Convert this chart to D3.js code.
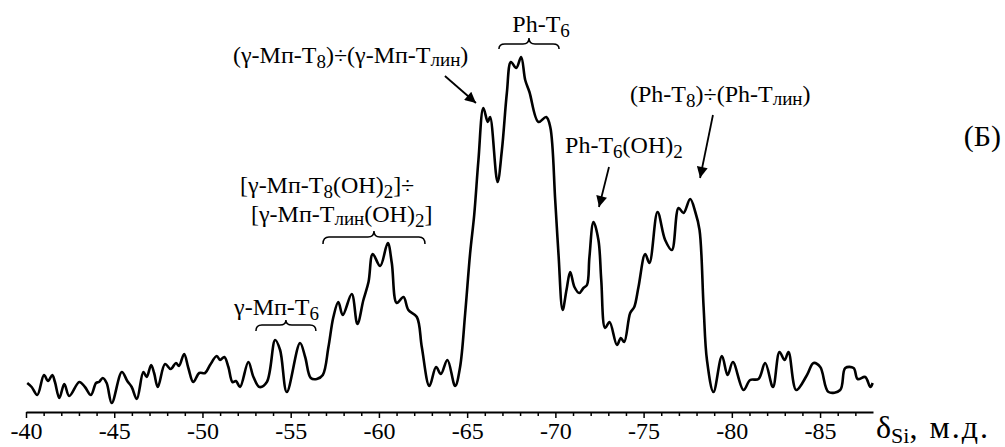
<!DOCTYPE html>
<html>
<head>
<meta charset="utf-8">
<script src="https://cdn.jsdelivr.net/npm/d3@7"></script>
<style>
  body { margin: 0; background: #fff; }
  svg text { font-family: "Times New Roman", "Liberation Serif", Tinos, "DejaVu Serif", "Noto Serif", serif; fill: #000; }
</style>
</head>
<body>
<div id="chart"></div>
<script>
// chemical shift, ppm
const shift = [
  -40.07, -40.32, -40.64, -41.02, -41.25, -41.49, -41.64, -41.89, -42.17, -42.45,
  -43.02, -43.34, -43.68, -43.97, -44.14, -44.35, -44.57, -44.86, -45.43, -45.74,
  -45.99, -46.28, -46.65, -46.84, -47.09, -47.26, -47.47, -47.88, -48.20, -48.50,
  -48.67, -48.96, -49.20, -49.48, -49.82, -50.15, -50.43, -50.81, -51.00, -51.24,
  -51.47, -51.70, -51.90, -52.13, -52.60, -52.89, -53.23, -53.65, -54.12, -54.40,
  -54.78, -55.53, -55.82, -56.14, -56.48, -56.82, -57.14, -57.42, -57.70, -57.95,
  -58.46, -58.78, -59.12, -59.41, -59.65, -60.07, -60.50, -60.73, -61.01, -61.39,
  -61.67, -62.15, -62.43, -62.86, -63.24, -63.51, -63.88, -64.32, -64.60, -64.89,
  -65.17, -65.40, -65.64, -65.92, -66.17, -66.30, -66.72, -66.97, -67.25, -67.48,
  -67.78, -68.06, -68.29, -68.53, -69.04, -69.48, -69.71, -69.99, -70.18, -70.41,
  -70.63, -70.84, -71.08, -71.35, -71.59, -71.79, -71.93, -72.16, -72.44, -72.60,
  -72.82, -73.07, -73.49, -73.71, -73.90, -74.24, -74.47, -74.71, -75.09, -75.33,
  -75.79, -76.22, -76.60, -76.98, -77.26, -77.64, -77.93, -78.17, -78.40, -78.59,
  -78.96, -79.44, -79.76, -80.06, -80.66, -81.04, -81.51, -81.89, -82.33, -82.70,
  -82.99, -83.21, -83.65, -84.26, -84.63, -85.01, -85.48, -86.14, -86.43, -86.90,
  -87.13, -87.56, -87.85, -87.98
];
// intensity, arb. units
const intensity = [
  29, 25, 17, 37, 31, 37, 30, 14, 28, 16,
  30, 25, 17, 29, 30, 34, 29, 9, 40, 31,
  25, 13, 40, 35, 47, 39, 25, 48, 43, 49,
  46, 58, 44, 30, 39, 39, 47, 56, 52, 55,
  45, 30, 31, 25, 50, 35, 25, 30, 72, 62,
  20, 69, 55, 34, 33, 37, 65, 95, 110, 97,
  118, 88, 112, 130, 158, 146, 169, 149, 109, 115,
  102, 95, 65, 26, 45, 38, 52, 26, 45, 99,
  159, 197, 252, 304, 290, 295, 230, 262, 319, 350,
  344, 355, 332, 320, 290, 295, 285, 212, 157, 102,
  122, 140, 125, 119, 124, 127, 155, 190, 172, 132,
  84, 90, 67, 74, 70, 99, 105, 125, 158, 149,
  200, 172, 162, 204, 199, 213, 200, 182, 105, 52,
  20, 56, 37, 50, 22, 32, 33, 49, 25, 60,
  52, 60, 22, 37, 49, 45, 20, 22, 44, 44,
  33, 35, 25, 29
];

const majorTicks = [-40, -45, -50, -55, -60, -65, -70, -75, -80, -85];
const minorTicks = d3.range(-41, -88, -1).filter(v => v % 5 !== 0);

// annotations, placed in data units (ppm, intensity)
const labels = [
  { parts: [["(γ-Мп-T", 0], ["8", 1], [")÷(γ-Мп-T", 0], ["лин", 2], [")", 0]], at: [-51.73, 349], anchor: "start" },
  { parts: [["Ph-T", 0], ["6", 1]], at: [-69.19, 380], anchor: "middle" },
  { parts: [["(Ph-T", 0], ["8", 1], [")÷(Ph-T", 0], ["лин", 2], [")", 0]], at: [-74.23, 310], anchor: "start" },
  { parts: [["Ph-T", 0], ["6", 1], ["(OH)", 0], ["2", 1]], at: [-70.55, 259], anchor: "start" },
  { parts: [["[γ-Мп-T", 0], ["8", 1], ["(OH)", 0], ["2", 1], ["]÷", 0]], at: [-52.13, 219], anchor: "start" },
  { parts: [["[γ-Мп-T", 0], ["лин", 2], ["(OH)", 0], ["2", 1], ["]", 0]], at: [-52.75, 190], anchor: "start" },
  { parts: [["γ-Мп-T", 0], ["6", 1]], at: [-51.79, 97], anchor: "start" }
];
// braces: ppm from, ppm to, tip, middle, end intensity
const braces = [
  [-66.80, -70.21, 374, 368, 363],
  [-56.83, -62.61, 181, 175, 168],
  [-53.03, -56.43, 92, 87, 81]
];
// arrows: from [ppm, I] to [ppm, I]
const arrows = [
  [[-63.74, 336], [-65.50, 309]],
  [[-73.04, 245], [-72.47, 205]],
  [[-78.93, 297], [-78.20, 234]]
];

const width = 1005;
const height = 447;
const serif = '"Times New Roman", "Liberation Serif", Tinos, "DejaVu Serif", serif';

const svg = d3.select("#chart")
  .append("svg")
  .attr("width", width)
  .attr("height", height);

const x = d3.scaleLinear().domain([-40, -88]).range([26, 873]);
const y = d3.scaleLinear().domain([0, 350]).range([412, 62]);

// Axis
const axisY = y(0);
const minor = svg.append("g")
  .attr("transform", `translate(0,${axisY})`)
  .call(d3.axisBottom(x).tickValues(minorTicks).tickSize(4).tickFormat(""));
minor.select(".domain").remove();
minor.selectAll("line").attr("stroke", "#000").attr("stroke-width", 1.5);

const major = svg.append("g")
  .attr("transform", `translate(0,${axisY})`)
  .call(d3.axisBottom(x).tickValues(majorTicks).tickSize(6).tickSizeOuter(0).tickPadding(4).tickFormat(d => String(d)));
major.attr("font-family", serif);
major.select(".domain").attr("stroke", "#000").attr("stroke-width", 2);
major.selectAll("line").attr("stroke", "#000").attr("stroke-width", 1.5);
major.selectAll("text")
  .style("font-family", serif)
  .style("font-size", "24px")
  .attr("fill", "#000");

// axis title
const title = svg.append("text")
  .attr("x", 876)
  .attr("y", 438)
  .attr("text-anchor", "start")
  .style("font-family", serif)
  .style("font-size", "32px");
title.append("tspan").text("δ");
title.append("tspan").attr("dy", 5).style("font-size", "22px").text("Si");
title.append("tspan").attr("dy", -5).style("letter-spacing", "2px").text(", м.д.");

// Spectrum
const points = shift.map((s, i) => [s, intensity[i]]);
svg.append("path")
  .datum(points)
  .attr("fill", "none")
  .attr("stroke", "#000")
  .attr("stroke-width", 2.6)
  .attr("stroke-linejoin", "round")
  .attr("d", d3.line()
    .x(d => x(d[0]))
    .y(d => y(d[1]))
    .curve(d3.curveCatmullRom.alpha(0.5)));

// Labels with subscripts
function richText(sel, parts) {
  let down = 0;
  parts.forEach(([t, sub]) => {
    const want = sub === 1 ? 5 : sub === 2 ? 3 : 0;
    const ts = sel.append("tspan").text(t).attr("dy", want - down);
    if (sub) ts.style("font-size", "19px");
    down = want;
  });
}

svg.append("g")
  .selectAll("text")
  .data(labels)
  .join("text")
  .attr("x", d => x(d.at[0]))
  .attr("y", d => y(d.at[1]))
  .attr("text-anchor", d => d.anchor)
  .style("font-family", serif)
  .style("font-size", "24px")
  .each(function(d) { richText(d3.select(this), d.parts); });

// Braces
function bracePath([a, b, tip, mid, end]) {
  const x1 = x(a), x2 = x(b), xc = (x1 + x2) / 2;
  const yt = y(tip), ym = y(mid), ye = y(end);
  const r = 6;
  return `M${x1},${ye} Q${x1},${ym} ${x1 + r},${ym} L${xc - r},${ym} Q${xc},${ym} ${xc},${yt}` +
    ` Q${xc},${ym} ${xc + r},${ym} L${x2 - r},${ym} Q${x2},${ym} ${x2},${ye}`;
}
svg.append("g")
  .selectAll("path")
  .data(braces)
  .join("path")
  .attr("d", bracePath)
  .attr("fill", "none")
  .attr("stroke", "#000")
  .attr("stroke-width", 1.5);

// Arrows
svg.append("defs").append("marker")
  .attr("id", "head")
  .attr("viewBox", "0 0 10 10")
  .attr("refX", 10)
  .attr("refY", 5)
  .attr("markerWidth", 14)
  .attr("markerHeight", 11)
  .attr("markerUnits", "userSpaceOnUse")
  .attr("orient", "auto")
  .append("path")
  .attr("d", "M0,0 L10,5 L0,10 Z")
  .attr("fill", "#000");

svg.append("g")
  .selectAll("line")
  .data(arrows)
  .join("line")
  .attr("x1", d => x(d[0][0]))
  .attr("y1", d => y(d[0][1]))
  .attr("x2", d => x(d[1][0]))
  .attr("y2", d => y(d[1][1]))
  .attr("stroke", "#000")
  .attr("stroke-width", 1.8)
  .attr("marker-end", "url(#head)");

// panel letter
svg.append("text")
  .attr("x", width - 4)
  .attr("y", 146)
  .attr("text-anchor", "end")
  .style("font-family", serif)
  .style("font-size", "30px")
  .text("(Б)");
</script>
</body>
</html>
